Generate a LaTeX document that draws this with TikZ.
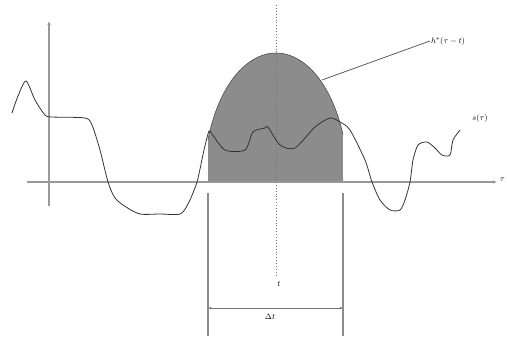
\documentclass[tikz,border=0pt]{standalone}
\usetikzlibrary{arrows.meta}
\begin{document}
\begin{tikzpicture}[x=1pt,y=-1pt,
  axisline/.style={draw=black!40,line width=1.4pt},
  dimline/.style={draw=black!45,line width=1.1pt},
  signal/.style={draw=black!80,line width=0.8pt},
  lbl/.style={font=\fontsize{8}{9}\selectfont,inner sep=1pt},
  tip/.style={-{Latex[length=4pt,width=3.5pt]}}]
\useasboundingbox (0,0) rectangle (507,341);
% window (shaded)
\fill[black!45] (208,182) -- plot[domain=160.8:21.5,samples=60,variable=\a] ({276+72*cos(\a)},{182-129*sin(\a)}) -- (343,182) -- cycle;
\draw[black!70,line width=0.6pt] plot[domain=160.8:21.5,samples=60,variable=\a] ({276+72*cos(\a)},{182-129*sin(\a)});
% axes
\coordinate (xs) at (27,182);
\coordinate (xe) at (497,182);
\coordinate (ys) at (49,206);
\coordinate (ye) at (49,21);
\draw[axisline,tip] (xs) -- (xe);
\draw[axisline,tip] (ys) -- (ye);
\node[lbl,anchor=west] (tau) at (499,180) {$\tau$};
% dotted centre line
\coordinate (ct) at (276,5);
\coordinate (cb) at (276,275);
\draw[black!55,line width=0.9pt,dotted] (ct) -- (cb);
\node[lbl] (tlab) at (279,284) {$t$};
% dimension lines
\coordinate (l1) at (208,193);
\coordinate (l2) at (208,336);
\coordinate (r1) at (343,193);
\coordinate (r2) at (343,336);
\draw[dimline] (l1) -- (l2);
\draw[dimline] (r1) -- (r2);
\coordinate (da) at (208,308);
\coordinate (db) at (343,308);
\draw[black!55,line width=0.8pt,{Latex[length=3pt,width=2.5pt]}-{Latex[length=3pt,width=2.5pt]}] (da) -- (db);
\node[lbl] (dt) at (270,317) {$\Delta t$};
% signal
\draw[signal] plot[smooth,tension=0.45] coordinates {
(12,113) (18,96) (26,81) (35,100) (45,115) (52,117) (85,118) (92,125) (100,150) (108,182) (115,198) (126,207) (140,214) (160,214) (180,214) (188,204) (197,182) (204,150) (209,131) (212,134) (225,150) (245,150) (253,132) (265,128) (268,127) (280,145) (295,148) (315,127) (330,118) (340,122) (350,130) (365,160) (372,182) (380,200) (390,210) (400,210) (405,200) (410,182) (413,160) (418,145) (427,142) (435,148) (442,155) (450,155) (453,140) (460,130)};
\node[lbl] (s) at (480,118) {$s(\tau)$};
% leader to window label
\node[lbl] (h) at (448,41) {$h^*(\tau-t)$};
\coordinate (hp) at (322,80);
\draw[black!70,line width=0.7pt] (hp) -- (h.west);
\end{tikzpicture}
\end{document}
